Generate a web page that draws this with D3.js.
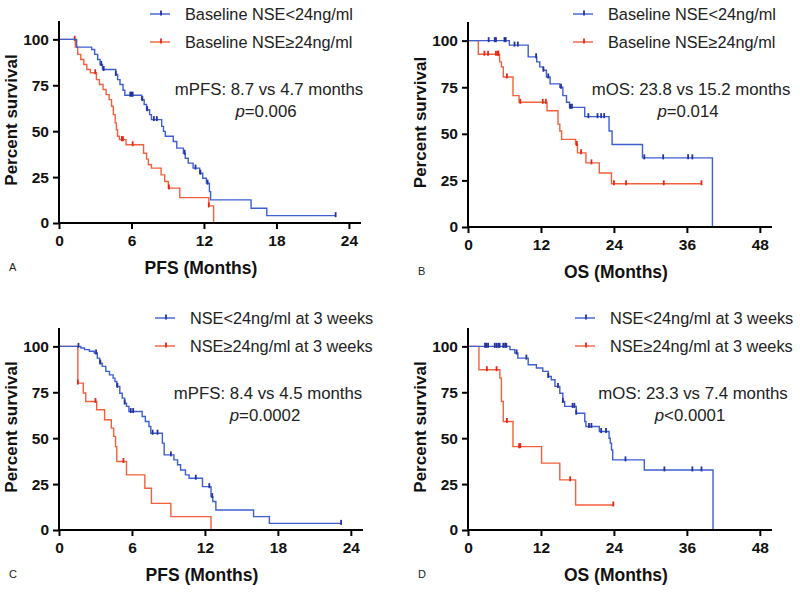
<!DOCTYPE html>
<html><head><meta charset="utf-8">
<script src="https://cdn.jsdelivr.net/npm/d3@7"></script>
<style>body{margin:0;background:#fff}svg{display:block}</style>
</head><body><svg id="c" width="800" height="592"></svg>
<script>
// ---------- data ----------
const pfsTicks = [0, 6, 12, 18, 24];
const osTicks = [0, 12, 24, 36, 48];
const yTicks = [0, 25, 50, 75, 100];
const legendBaseline = ["Baseline NSE<24ng/ml", "Baseline NSE\u226524ng/ml"];
const legendWeek3 = ["NSE<24ng/ml at 3 weeks", "NSE\u226524ng/ml at 3 weeks"];
const panelLetters = ["A", "B", "C", "D"];
const xTitles = ["PFS (Months)", "OS (Months)", "PFS (Months)", "OS (Months)"];
const medianTexts = ["mPFS: 8.7 vs 4.7 months", "mOS: 23.8 vs 15.2 months", "mPFS: 8.4 vs 4.5 months", "mOS: 23.3 vs 7.4 months"];
const pPrefix = ["=", "=", "=", "<"];
const pValues = ["0.006", "0.014", "0.0002", "0.0001"];

// A: PFS by baseline NSE  (steps: [time, survival after drop])
const aLowSteps = [[1.46,95.8],[2.7,94.5],[2.95,91.8],[3.2,89],[3.4,86.3],[3.6,83.6],[4.7,80.9],[4.85,78.1],[5.05,75.4],[5.3,72.3],[5.45,69.6],[6.84,67.2],[7.05,64.5],[7.25,61.7],[7.5,59],[7.65,56.3],[8.5,52.6],[8.65,49.9],[8.8,47.2],[9.46,44.4],[9.75,40.8],[10.3,38],[10.45,35.3],[10.7,32.6],[11.1,29.9],[11.65,27.1],[11.9,24.4],[12.2,21.7],[12.45,17.1],[12.55,12.6],[15.9,8.0],[17.2,4.0]];
const aLowCensor = [3.5, 3.7, 4.7, 5.9, 6.0, 6.1, 6.9, 7.3, 7.85, 8.1, 10.4, 11.3, 11.7, 12.3, 22.9];
const aLowEnd = 22.9;
const aHighSteps = [[1.35,95.8],[1.55,91.8],[1.8,89],[2.05,86.3],[2.3,83.6],[2.6,81.8],[3.1,78.1],[3.35,75.4],[3.65,72.7],[3.9,69.9],[4.15,67.2],[4.35,63.6],[4.5,59],[4.65,54.5],[4.75,50.8],[4.85,47.2],[5.0,45.4],[5.55,42.6],[7.0,38],[7.25,34.8],[7.4,31.7],[7.65,29.9],[8.45,26.2],[8.75,22.6],[9.05,19],[10.0,13.8],[12.4,9.3],[12.8,0]];
const aHighCensor = [1.3, 3.0, 5.2, 5.3, 6.1, 9.1, 12.4];
const aHighEnd = 12.8;

// B: OS by baseline NSE
const bLowSteps = [[6.8,97.6],[9.9,91.3],[11.3,88.6],[11.8,85.9],[12.4,84.1],[12.9,80.5],[13.5,76.8],[15.1,75],[15.6,70.5],[16.2,66.9],[16.7,64.2],[19.2,59.2],[23.2,51.5],[23.7,44.3],[28.7,37.1],[40.2,0]];
const bLowCensor = [3.4, 4.4, 4.6, 6.0, 6.2, 7.65, 8.2, 11.2, 12.4, 13.2, 15.3, 16.8, 17.1, 19.8, 21.3, 21.9, 22.4, 29.0, 32.1, 36.2, 36.9];
const bLowEnd = 40.2;
const bHighSteps = [[1.7,92.7],[5.2,88.6],[5.5,85.9],[5.8,80.5],[7.4,70.5],[8.4,66.9],[13.0,62.4],[14.8,55.2],[15.1,51.5],[15.4,47],[17.7,44.3],[18.0,39.8],[19.4,34.4],[21.6,29],[23.6,23.2]];
const bHighCensor = [2.7, 3.3, 4.6, 4.9, 5.0, 6.4, 8.6, 12.3, 12.8, 17.9, 18.6, 20.3, 24.0, 26.0, 32.2, 38.4];
const bHighEnd = 38.4;

// C: PFS by NSE at 3 weeks
const cLowSteps = [[1.8,99.1],[2.1,98.2],[2.5,97.3],[2.9,96.4],[3.15,93.6],[3.35,90.9],[3.55,89.1],[3.85,86.4],[4.15,84.5],[4.45,82.7],[4.6,80.9],[4.75,78.2],[5.0,74.5],[5.2,71.8],[5.4,69.1],[5.55,67.3],[5.75,64.5],[6.84,61.8],[7.1,59.1],[7.4,56.4],[7.55,52.7],[8.5,47.3],[8.65,40.9],[9.45,38.2],[9.75,35.5],[10.0,32.7],[10.4,30],[10.7,28.2],[11.8,23.6],[12.5,18.2],[12.65,15.5],[12.9,10.9],[16.0,7.3],[17.3,3.6]];
const cLowCensor = [1.6, 3.05, 3.4, 4.8, 5.4, 5.9, 6.1, 7.7, 8.1, 9.2, 11.25, 12.36, 12.6, 23.2];
const cLowEnd = 23.2;
const cHighSteps = [[1.55,80],[2.0,74.6],[2.2,70],[3.1,65.5],[3.75,60],[4.3,55.5],[4.5,51],[4.65,45.4],[4.75,37.3],[5.55,30],[7.06,22.7],[7.6,14.5],[9.2,7.3],[12.5,0]];
const cHighCensor = [1.55, 3.0, 5.3];
const cHighEnd = 12.5;

// D: OS by NSE at 3 weeks
const dLowSteps = [[6.9,98.2],[7.7,96.4],[8.2,93.6],[9.9,90],[11.25,88.2],[12.3,86.4],[13.2,83.6],[13.7,81.8],[14.3,78.2],[15.1,74.5],[15.6,70],[15.9,67.3],[17.8,63.6],[19.2,59.1],[19.4,56.4],[21.6,53.6],[23.2,50],[23.4,47.3],[23.6,43.6],[23.8,38.2],[29,32.7],[40.3,0]];
const dLowCensor = [2.8, 3.0, 3.3, 4.4, 4.7, 5.0, 5.2, 5.8, 6.1, 6.3, 8.0, 9.6, 13.2, 14.8, 15.6, 17.2, 17.5, 17.8, 19.9, 20.3, 21.9, 22.7, 25.9, 32.3, 36.9, 38.4];
const dLowEnd = 40.3;
const dHighSteps = [[1.8,87.3],[5.24,82.7],[5.5,70],[5.8,59.1],[7.4,45.4],[12.1,36.4],[15.1,27.3],[17.7,13.6]];
const dHighCensor = [3.1, 4.7, 6.4, 8.4, 8.6, 16.8, 23.9];
const dHighEnd = 23.9;

// ---------- drawing ----------
const FONT = "'Liberation Sans', Arial, Helvetica, sans-serif";
const BLUE = "#3d5fd2", BLUE_DARK = "#26329c";
const RED = "#f4603c", RED_DARK = "#e2281c";
const svg = d3.select("#c");

const panels = [
  {x0:59, xR:361, xMax:25, ticks:pfsTicks, y0:223, yT:21, legend:legendBaseline, legX:150, legY:14, annX:269, annY:95, tOff:-3,
   low:[aLowSteps,aLowCensor,aLowEnd], high:[aHighSteps,aHighCensor,aHighEnd]},
  {x0:468, xR:772, xMax:50, ticks:osTicks, y0:227, yT:22, legend:legendBaseline, legX:573, legY:14, annX:691, annY:95, tOff:2,
   low:[bLowSteps,bLowCensor,bLowEnd], high:[bHighSteps,bHighCensor,bHighEnd]},
  {x0:59, xR:363, xMax:25, ticks:pfsTicks, y0:530, yT:328, legend:legendWeek3, legX:155, legY:318, annX:268, annY:399, tOff:-3,
   low:[cLowSteps,cLowCensor,cLowEnd], high:[cHighSteps,cHighCensor,cHighEnd]},
  {x0:468, xR:772, xMax:50, ticks:osTicks, y0:530, yT:328, legend:legendWeek3, legX:575, legY:318, annX:693, annY:399, tOff:2,
   low:[dLowSteps,dLowCensor,dLowEnd], high:[dHighSteps,dHighCensor,dHighEnd]}
];

function survAt(steps, t){
  let s = 100;
  for (const [ts, v] of steps) { if (ts <= t) s = v; }
  return s;
}

panels.forEach((p, i) => {
  const x = d3.scaleLinear().domain([0, p.xMax]).range([p.x0, p.xR]);
  const y = d3.scaleLinear().domain([0, 110]).range([p.y0, p.yT]);
  const g = svg.append("g");

  const drawCurve = (spec, col, dark) => {
    const [steps, censor, end] = spec;
    const pts = [[0,100], ...steps];
    const last = pts[pts.length-1];
    if (end > last[0]) pts.push([end, last[1]]);
    const line = d3.line().x(d => x(d[0])).y(d => y(d[1])).curve(d3.curveStepAfter);
    g.append("path").attr("d", line(pts)).attr("fill","none").attr("stroke", col).attr("stroke-width", 1.4);
    g.selectAll(null).data(censor).enter().append("line")
      .attr("x1", d => x(d)).attr("x2", d => x(d))
      .attr("y1", d => y(survAt(steps, d)) - 3.5).attr("y2", d => y(survAt(steps, d)) + 1.5)
      .attr("stroke", dark).attr("stroke-width", 1.8);
  };
  drawCurve(p.high, RED, RED_DARK);
  drawCurve(p.low, BLUE, BLUE_DARK);

  const xAxis = g.append("g").attr("transform", `translate(0,${p.y0})`)
    .call(d3.axisBottom(x).tickValues(p.ticks).tickSize(6).tickSizeOuter(0).tickPadding(6));
  const yAxis = g.append("g").attr("transform", `translate(${p.x0},0)`)
    .call(d3.axisLeft(y).tickValues(yTicks).tickSize(6).tickSizeOuter(0).tickPadding(4));
  [xAxis, yAxis].forEach(a => {
    a.selectAll("path,line").attr("stroke", "#000").attr("stroke-width", 2);
    a.selectAll("text").attr("fill", "#111").attr("font-family", FONT).attr("font-weight", "bold").attr("font-size", 15.5);
  });
  xAxis.select(".domain").attr("d", `M${p.x0 - 1},0H${p.xR}`);
  yAxis.select(".domain").attr("d", `M0,${p.yT}V${p.y0 + 1}`);

  g.append("text").attr("x", (p.x0 + x(24 * p.xMax / 25)) / 2 + p.tOff).attr("y", p.y0 + 51)
    .attr("text-anchor","middle").attr("font-family", FONT).attr("font-weight","bold").attr("font-size", 17.5)
    .attr("fill", "#111").text(xTitles[i]);
  g.append("text").attr("transform", `translate(${p.x0 - 42},${(p.y0 + p.yT) / 2 - 2}) rotate(-90)`)
    .attr("text-anchor","middle").attr("font-family", FONT).attr("font-weight","bold").attr("font-size", 17)
    .attr("fill", "#111").text("Percent survival");
  g.append("text").attr("x", p.x0 - 50).attr("y", p.y0 + 48)
    .attr("font-family", FONT).attr("font-size", 11).attr("fill", "#222").text(panelLetters[i]);

  [[BLUE, BLUE_DARK], [RED, RED_DARK]].forEach((c, k) => {
    const ly = p.legY + k * 28;
    g.append("line").attr("x1", p.legX).attr("x2", p.legX + 20).attr("y1", ly).attr("y2", ly).attr("stroke", c[0]).attr("stroke-width", 1.4);
    g.append("line").attr("x1", p.legX + 11).attr("x2", p.legX + 11).attr("y1", ly - 3.5).attr("y2", ly + 1.5).attr("stroke", c[1]).attr("stroke-width", 1.8);
    g.append("text").attr("x", p.legX + 35).attr("y", ly + 6).attr("font-family", FONT).attr("font-size", 16.3).attr("fill","#222")
      .text(p.legend[k]);
  });

  g.append("text").attr("x", p.annX).attr("y", p.annY).attr("text-anchor","middle")
    .attr("font-family", FONT).attr("font-size", 16.8).attr("fill","#222").text(medianTexts[i]);
  const pt = g.append("text").attr("x", p.annX - 3).attr("y", p.annY + 22).attr("text-anchor","middle")
    .attr("font-family", FONT).attr("font-size", 16.8).attr("fill","#222");
  pt.append("tspan").attr("font-style","italic").text("p");
  pt.append("tspan").text(pPrefix[i] + pValues[i]);
});
</script></body></html>
